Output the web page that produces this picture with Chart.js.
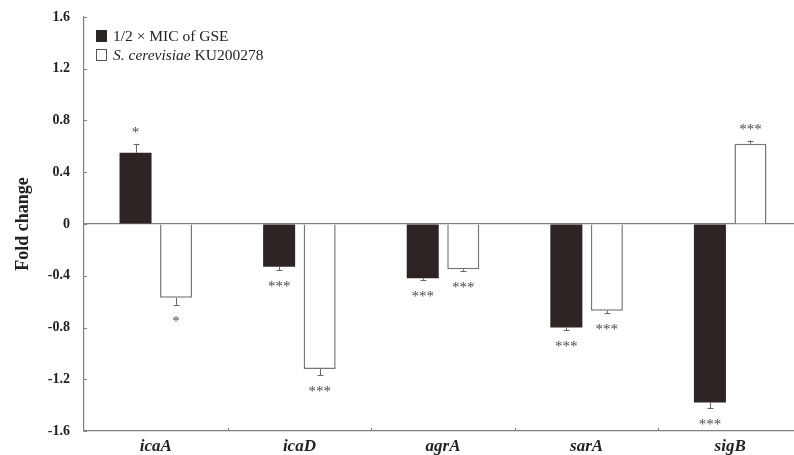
<!DOCTYPE html>
<html>
<head>
<meta charset="utf-8">
<script src="https://cdn.jsdelivr.net/npm/chart.js@4.4.1/dist/chart.umd.min.js"></script>
<style>
  html, body { margin: 0; padding: 0; background: #fff; overflow: hidden; }
  #wrap { width: 802px; height: 455px; }
</style>
</head>
<body>
<div id="wrap"><canvas id="c" width="802" height="455"></canvas></div>
<script>
const categories = ["icaA", "icaD", "agrA", "sarA", "sigB"];
const gseValues = [0.55, -0.33, -0.42, -0.80, -1.38];
const gseErrors = [0.07, 0.025, 0.012, 0.022, 0.045];
const gseStars = ["*", "***", "***", "***", "***"];
const yeastValues = [-0.57, -1.12, -0.35, -0.67, 0.62];
const yeastErrors = [0.055, 0.05, 0.012, 0.02, 0.025];
const yeastStars = ["*", "***", "***", "***", "***"];
const yTicks = [1.6, 1.2, 0.8, 0.4, 0, -0.4, -0.8, -1.2, -1.6];

const AXIS = '#808080';
const DARK = '#2d2523';
const SERIF = '"Liberation Serif", "DejaVu Serif", serif';

const decorPlugin = {
  id: 'decor',
  afterDatasetsDraw(chart) {
    const ctx = chart.ctx;
    const y = chart.scales.y, x = chart.scales.x;
    const area = chart.chartArea;
    ctx.save();
    ctx.strokeStyle = AXIS;
    ctx.lineWidth = 1;
    yTicks.forEach(v => {
      const py = Math.round(y.getPixelForValue(v)) + 0.5;
      ctx.beginPath(); ctx.moveTo(area.left, py); ctx.lineTo(area.left + 3, py); ctx.stroke();
    });
    for (let i = 1; i < categories.length; i++) {
      const px = Math.round((x.getPixelForValue(i - 1) + x.getPixelForValue(i)) / 2) + 0.5;
      ctx.beginPath(); ctx.moveTo(px, area.bottom); ctx.lineTo(px, area.bottom - 3); ctx.stroke();
    }
    const sets = [[gseValues, gseErrors, gseStars], [yeastValues, yeastErrors, yeastStars]];
    sets.forEach((s, di) => {
      const meta = chart.getDatasetMeta(di);
      meta.data.forEach((bar, i) => {
        const v = s[0][i], e = s[1][i];
        const end = v >= 0 ? v + e : v - e;
        const px = Math.round(bar.x) + 0.5;
        const pv = y.getPixelForValue(v);
        const pe = y.getPixelForValue(end);
        ctx.strokeStyle = '#666';
        ctx.lineWidth = 1;
        ctx.beginPath(); ctx.moveTo(px, pv); ctx.lineTo(px, pe); ctx.stroke();
        ctx.beginPath(); ctx.moveTo(px - 3, Math.round(pe) + 0.5); ctx.lineTo(px + 3, Math.round(pe) + 0.5); ctx.stroke();
        ctx.fillStyle = '#4a4a4a';
        ctx.font = '15px ' + SERIF;
        ctx.textAlign = 'center';
        ctx.textBaseline = 'alphabetic';
        const cy = v >= 0 ? pe - 15 : pe + 13;
        ctx.fillText(s[2][i], bar.x, cy + 8);
      });
    });
    ctx.textAlign = 'left';
    ctx.textBaseline = 'alphabetic';
    ctx.fillStyle = DARK;
    ctx.fillRect(96, 30, 11, 12);
    ctx.strokeStyle = '#555';
    ctx.lineWidth = 1;
    ctx.strokeRect(96.5, 49.5, 10, 11);
    ctx.fillStyle = '#222';
    ctx.font = '15.5px ' + SERIF;
    ctx.fillText('1/2 × MIC of GSE', 113, 41);
    ctx.font = 'italic 15.5px ' + SERIF;
    const t1 = 'S. cerevisiae';
    ctx.fillText(t1, 113, 60);
    const w1 = ctx.measureText(t1 + ' ').width;
    ctx.font = '15.5px ' + SERIF;
    ctx.fillText('KU200278', 113 + w1, 60);
    ctx.restore();
  }
};

new Chart(document.getElementById('c'), {
  type: 'bar',
  data: {
    labels: categories,
    datasets: [
      { label: '1/2 × MIC of GSE', data: gseValues, backgroundColor: DARK, borderColor: DARK, borderWidth: 0 },
      { label: 'S. cerevisiae KU200278', data: yeastValues, backgroundColor: '#ffffff', borderColor: '#777', borderWidth: 1.5 }
    ]
  },
  options: {
    responsive: false,
    animation: false,
    devicePixelRatio: 1,
    layout: { padding: { top: 17, right: 0, bottom: 0, left: 0 } },
    datasets: { bar: { categoryPercentage: 0.5645, barPercentage: 0.79 } },
    plugins: { legend: { display: false }, tooltip: { enabled: false } },
    scales: {
      x: {
        offset: true,
        grid: { display: false, drawTicks: false },
        border: { display: true, color: AXIS, width: 1.2 },
        ticks: { color: '#222', padding: 5, font: { family: SERIF, size: 17, weight: 'bold', style: 'italic' } },
        afterFit(s) { s.height = 24; }
      },
      y: {
        min: -1.6, max: 1.6,
        afterBuildTicks(s) { s.ticks = yTicks.map(v => ({ value: v })); },
        grid: {
          drawTicks: true,
          tickLength: 14,
          tickColor: 'rgba(0,0,0,0)',
          color: c => (c.tick && c.tick.value === 0) ? AXIS : 'rgba(0,0,0,0)',
          lineWidth: 1.2
        },
        border: { display: true, color: AXIS, width: 1.2 },
        ticks: {
          color: '#222', padding: 0,
          font: { family: SERIF, size: 14, weight: 'bold' },
          callback: v => (Math.abs(v) < 1e-9 ? '0' : String(Math.round(v * 10) / 10))
        },
        title: {
          display: true, text: 'Fold change', color: '#222',
          font: { family: SERIF, size: 18, weight: 'bold' },
          padding: { top: 13, bottom: 0 }
        },
        afterFit(s) { s.width = 84; }
      }
    }
  },
  plugins: [decorPlugin]
});
</script>
</body>
</html>
